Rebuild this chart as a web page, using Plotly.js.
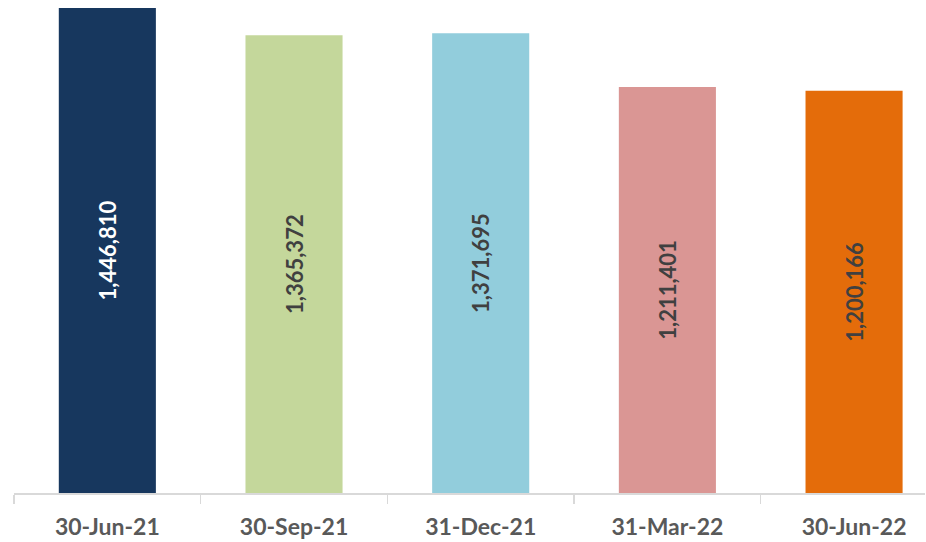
<!DOCTYPE html>
<html>
<head>
<meta charset="utf-8">
<script src="https://cdn.plot.ly/plotly-3.0.1.min.js"></script>
<style>html,body{margin:0;padding:0;background:#fff;}#chart{width:926px;height:542px;}</style>
</head>
<body>
<div id="chart"></div>
<script>
const categories = ["30-Jun-21", "30-Sep-21", "31-Dec-21", "31-Mar-22", "30-Jun-22"];
const values = [1446810, 1365372, 1371695, 1211401, 1200166];
const barColors = ["#17375E", "#C4D79B", "#92CDDC", "#DA9694", "#E46C0A"];
const labelColors = ["#FFFFFF", "#404040", "#404040", "#404040", "#404040"];

const trace = {
  type: "bar",
  x: categories,
  y: values,
  width: 0.52,
  marker: {color: barColors},
  text: values.map(v => v.toLocaleString("en-US")),
  textposition: "inside",
  insidetextanchor: "middle",
  textangle: -90,
  constraintext: "none",
  textfont: {family: "Lato, 'Liberation Sans', sans-serif", size: 22, color: labelColors, weight: "bold"},
  hoverinfo: "skip"
};

const layout = {
  width: 926, height: 542,
  margin: {l: 14, r: 1, t: 0, b: 49},
  paper_bgcolor: "#ffffff",
  plot_bgcolor: "#ffffff",
  showlegend: false,
  bargap: 0.48,
  xaxis: {
    type: "category",
    range: [-0.5, 4.38],
    tickson: "boundaries",
    ticks: "outside",
    ticklen: 9,
    tickwidth: 1.5,
    tickcolor: "#D9D9D9",
    showline: true,
    linecolor: "#D9D9D9",
    linewidth: 1.5,
    showgrid: false,
    zeroline: false,
    ticklabelstandoff: 13,
    tickfont: {family: "Lato, 'Liberation Sans', sans-serif", size: 23, color: "#595959", weight: "bold"},
    fixedrange: true
  },
  yaxis: {
    range: [0, 1470675],
    visible: false,
    showgrid: false,
    zeroline: false,
    fixedrange: true
  }
};

Plotly.newPlot("chart", [trace], layout, {displayModeBar: false, staticPlot: true});
</script>
</body>
</html>
